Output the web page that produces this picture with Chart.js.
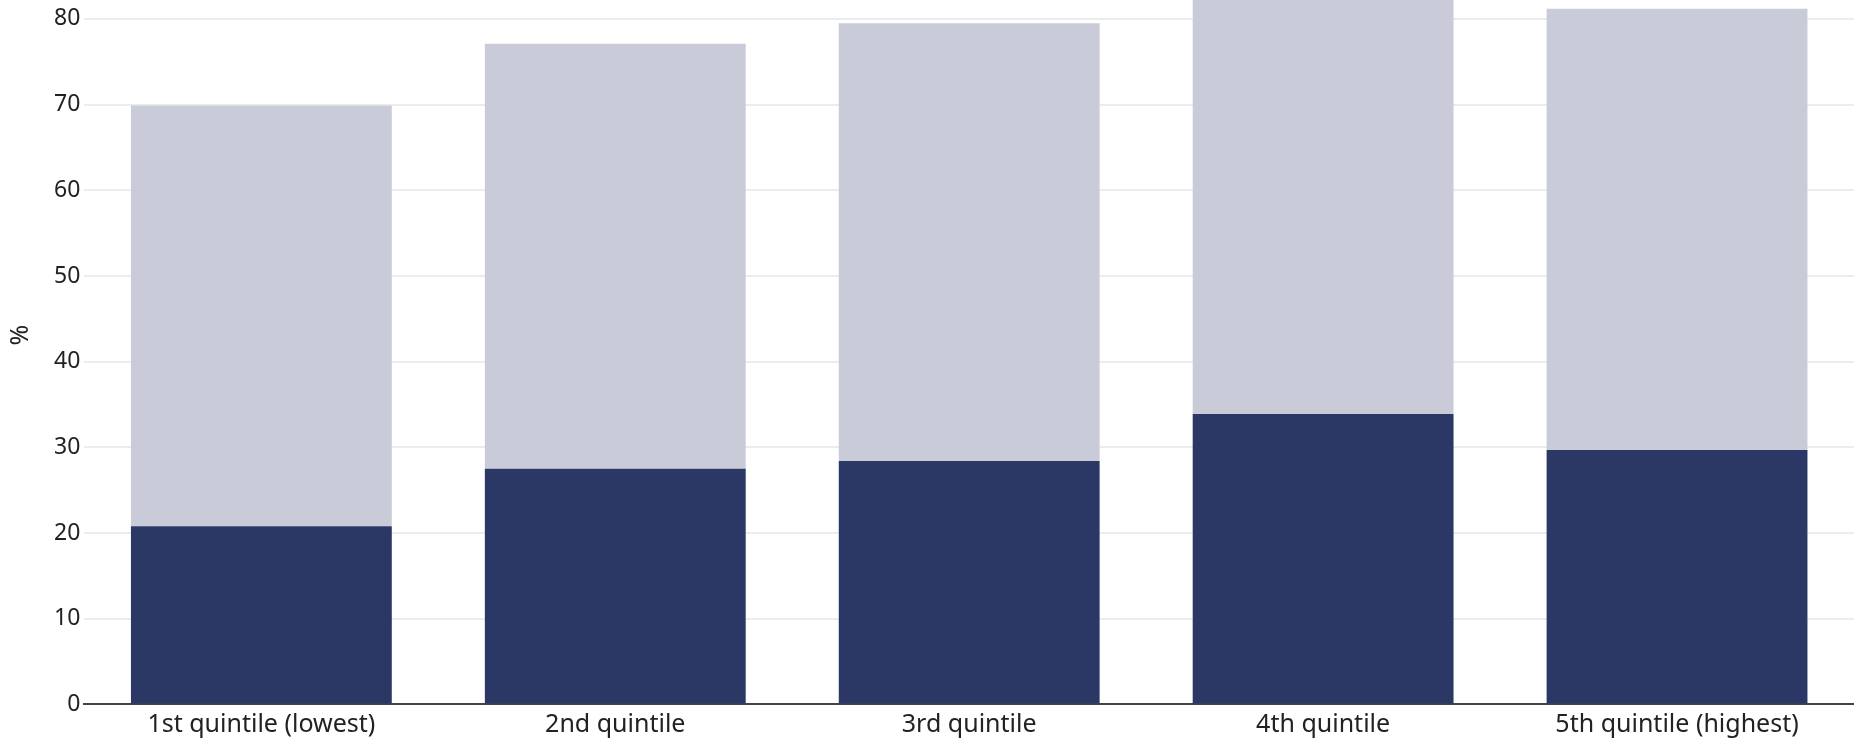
<!DOCTYPE html>
<html>
<head>
<meta charset="utf-8">
<script src="https://cdn.jsdelivr.net/npm/chart.js@4/dist/chart.umd.min.js"></script>
<style>
  html, body { margin: 0; padding: 0; background: #ffffff; overflow: hidden; }
  body { width: 1854px; height: 742px; position: relative; }
  #wrap { position: absolute; left: 0; top: -52.4px; width: 1854px; height: 805px; }
</style>
</head>
<body>
<div id="wrap"><canvas id="c"></canvas></div>
<script>
const categories = ["1st quintile (lowest)", "2nd quintile", "3rd quintile", "4th quintile", "5th quintile (highest)"];
const darkValues = [20.8, 27.5, 28.4, 33.9, 29.7];
const lightValues = [49.1, 49.6, 51.1, 48.3, 51.5];
const yTickValues = [0, 10, 20, 30, 40, 50, 60, 70, 80];
const yAxisMax = 86.2;
const yAxisTitle = "%";

const FONT = "'Noto Sans', sans-serif";

new Chart(document.getElementById('c'), {
  type: 'bar',
  data: {
    labels: categories,
    datasets: [
      { data: darkValues, backgroundColor: '#2b3764', borderWidth: 0, barPercentage: 0.737, categoryPercentage: 1.0 },
      { data: lightValues, backgroundColor: '#c9ccd8', borderWidth: 0, barPercentage: 0.737, categoryPercentage: 1.0 }
    ]
  },
  options: {
    responsive: true,
    maintainAspectRatio: false,
    animation: false,
    devicePixelRatio: 1,
    layout: { padding: { top: 5.7, right: 0, bottom: 7, left: 0 } },
    plugins: { legend: { display: false }, tooltip: { enabled: false } },
    scales: {
      x: {
        stacked: true,
        grid: { display: false, drawTicks: false },
        border: { display: true, color: '#444444', width: 2 },
        ticks: { color: '#222222', font: { family: FONT, size: 25 }, padding: 5.8, maxRotation: 0 }
      },
      y: {
        stacked: true,
        min: 0,
        max: yAxisMax,
        afterBuildTicks: (scale) => { scale.ticks = yTickValues.map(v => ({ value: v })); },
        afterFit: (scale) => { scale.width = 84.4; },
        grid: { color: '#ececec', lineWidth: 2, drawTicks: false },
        border: { display: false },
        ticks: { color: '#222222', font: { family: FONT, size: 23 }, padding: 4 },
        title: { display: true, text: yAxisTitle, color: '#222222', font: { family: FONT, size: 25 }, padding: { top: 6, bottom: 0 } }
      }
    }
  }
});
</script>
</body>
</html>
